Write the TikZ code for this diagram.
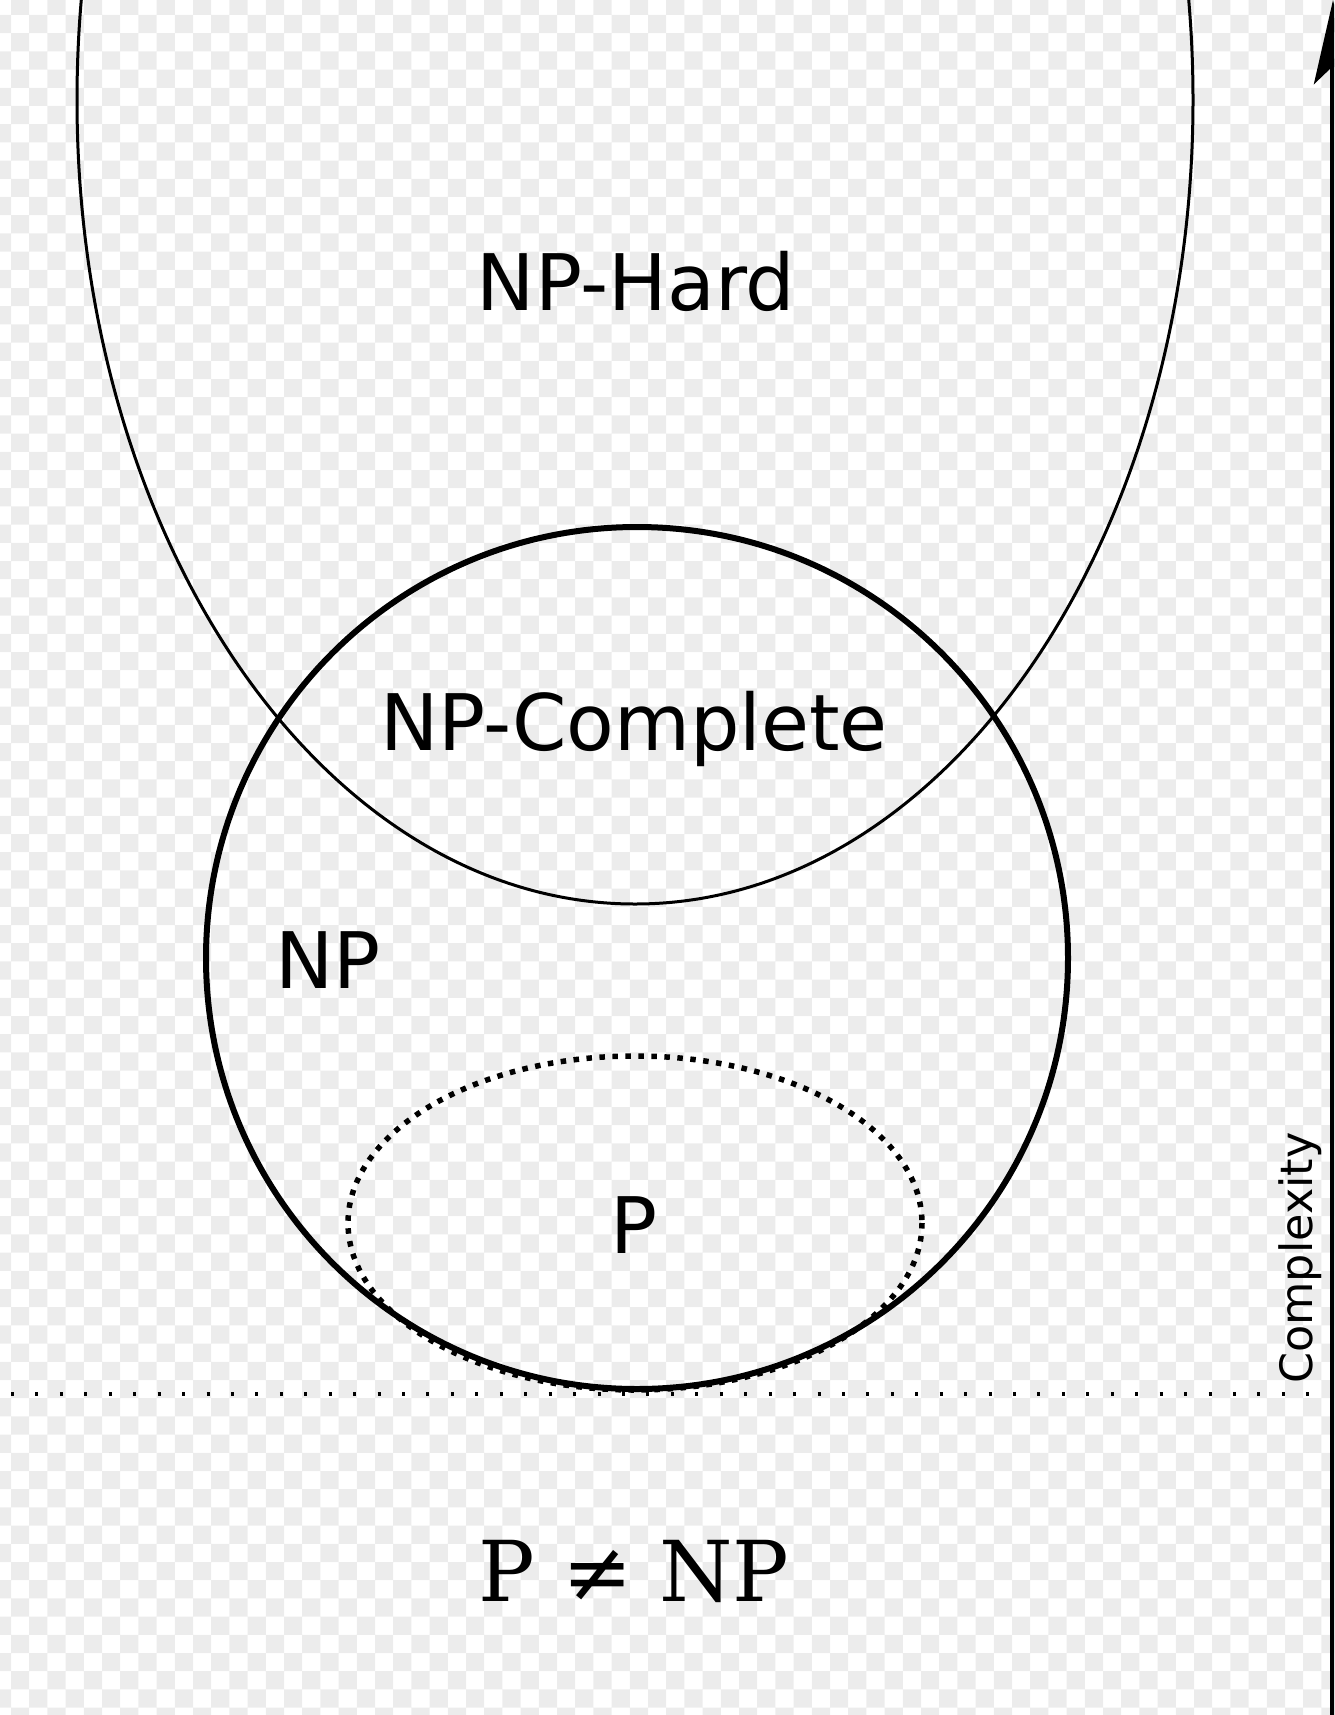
\documentclass[tikz,border=0pt]{standalone}
\usepackage{fontspec}
\newfontfamily\labelfont{DejaVu Sans}
\newfontfamily\claimfont{DejaVu Serif}
\usepackage{tikz}
\usetikzlibrary{arrows.meta}
\definecolor{checkgray}{gray}{0.925}

\begin{document}
\begin{tikzpicture}[x=1pt,y=-1pt,every node/.style={inner sep=0pt,font=\labelfont\fontsize{78}{80}\selectfont},setlabel/.style={anchor=base},npset/.style={draw=black,line width=6pt},hardset/.style={draw=black,line width=3pt},pset/.style={draw=black,line width=5.5pt,dash pattern=on 5.5pt off 7.5pt},level/.style={draw=black,line width=3.5pt,dash pattern=on 3pt off 21.44pt},axis/.style={draw=black,line width=6pt,-{Stealth[length=84pt,width=38pt,inset=18pt]}}]
\useasboundingbox (0,0) rectangle (1334,1715);
\clip (0,0) rectangle (1334,1715);
% checkered background
\fill[checkgray] \foreach \i in {0,2,...,94}{\foreach \j in {0,2,...,74}{({-7.2+(\j+1)*18.2},{-3.2+\i*18.2}) rectangle ++(18.2,18.2) ({-7.2+\j*18.2},{-3.2+(\i+1)*18.2}) rectangle ++(18.2,18.2)}};
% sets
\draw[hardset] (635,100) ellipse [x radius=558, y radius=804];
\draw[npset] (637,958) circle [radius=431];
\draw[pset] (635,1223) ellipse [x radius=287, y radius=167];
% level and axis
\coordinate (lvlstart) at (11,1394);
\coordinate (lvlend) at (1334,1394);
\draw[level] (lvlstart) -- (lvlend);
\coordinate (axisbase) at (1333,1715);
\coordinate (axistop) at (1333,0);
\draw[axis] (axisbase) -- (axistop);
% labels
\node[setlabel] (hard) at (636,310) {NP-Hard};
\node[setlabel] (complete) at (634,750) {NP-Complete};
\node[setlabel] (np) at (328,988) {NP};
\node[setlabel] (p) at (634,1253) {P};
\node[setlabel,font=\claimfont\fontsize{84}{86}\selectfont] (claim) at (634,1601) {P ≠ NP};
\node[setlabel,rotate=90,font=\labelfont\fontsize{44.5}{46}\selectfont] (complexity) at (1312,1258) {Complexity};
\end{tikzpicture}
\end{document}
